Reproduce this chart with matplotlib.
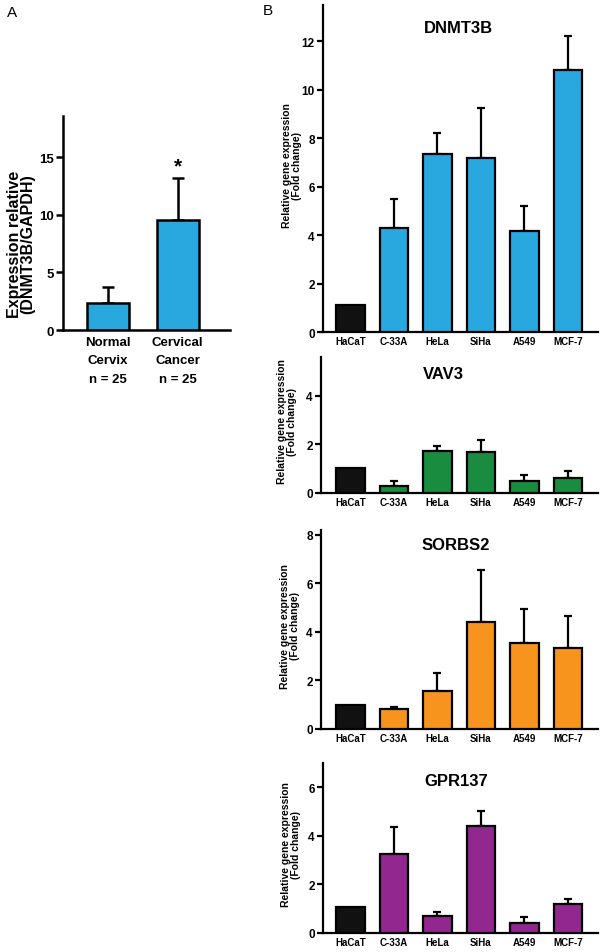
import matplotlib

matplotlib.use("Agg")
import matplotlib.pyplot as plt

plt.rcParams["font.family"] = ["Liberation Sans", "DejaVu Sans"]

# ---- data -------------------------------------------------------------
groups_a = ["Normal\nCervix\nn = 25", "Cervical\nCancer\nn = 25"]
mean_a = [2.35, 9.57]
err_a = [1.35, 3.63]

cell_lines = ["HaCaT", "C-33A", "HeLa", "SiHa", "A549", "MCF-7"]

dnmt3b_mean = [1.1, 4.3, 7.35, 7.2, 4.15, 10.8]
dnmt3b_err = [0.0, 1.2, 0.85, 2.05, 1.05, 1.4]

vav3_mean = [1.04, 0.3, 1.74, 1.67, 0.48, 0.6]
vav3_err = [0.0, 0.19, 0.18, 0.52, 0.26, 0.29]

sorbs2_mean = [0.99, 0.82, 1.58, 4.39, 3.53, 3.32]
sorbs2_err = [0.0, 0.1, 0.72, 2.15, 1.41, 1.32]

gpr137_mean = [1.07, 3.26, 0.72, 4.4, 0.42, 1.2]
gpr137_err = [0.0, 1.1, 0.14, 0.64, 0.24, 0.21]

W, H = 600, 953
fig = plt.figure(figsize=(W / 100, H / 100), dpi=100)


def px_axes(left, right, top, bottom):
    return fig.add_axes([left / W, 1 - bottom / H, (right - left) / W, (bottom - top) / H])


def style(ax, lw=1.6, tick_len=4.5, yfs=8.5, xfs=7):
    for side in ("top", "right"):
        ax.spines[side].set_visible(False)
    for side in ("left", "bottom"):
        ax.spines[side].set_linewidth(lw)
    ax.tick_params(axis="y", direction="out", length=tick_len, width=lw, labelsize=yfs, pad=1.5)
    ax.tick_params(axis="x", length=0, labelsize=xfs, pad=3)
    for lab in ax.get_xticklabels() + ax.get_yticklabels():
        lab.set_fontweight("bold")


# ---- panel A ----------------------------------------------------------
ax = px_axes(63, 230, 117, 331)
xa = range(len(groups_a))
ax.bar(xa, mean_a, width=0.6, color="#29A8E0", edgecolor="black", linewidth=1.8, zorder=3)
ax.errorbar(xa, mean_a, yerr=[[0] * len(err_a), err_a], fmt="none", ecolor="black",
            elinewidth=1.8, capsize=4, capthick=1.8, zorder=2)
ax.set_xlim(-0.636, 1.75)
ax.set_ylim(0, 18.6)
ax.set_yticks([0, 5, 10, 15])
ax.set_xticks(list(xa))
ax.set_xticklabels(groups_a, linespacing=1.75)
style(ax, lw=1.8, tick_len=5, yfs=9.5, xfs=9.5)
ax.tick_params(axis="x", pad=4)
ax.text(1, mean_a[1] + err_a[1] + 0.2, "*", ha="center", va="bottom", fontsize=15, fontweight="bold")
fig.text(21 / W, 1 - 244 / H, "Expression relative\n(DNMT3B/GAPDH)", rotation=90,
         ha="center", va="center", fontsize=11.5, fontweight="bold", linespacing=0.85)
fig.text(12 / W, 1 - 13 / H, "A", ha="center", va="center", fontsize=11)

# ---- panel B ----------------------------------------------------------
panels = [
    ("DNMT3B", dnmt3b_mean, dnmt3b_err, "#29A8E0", 323, 6, 333, 13.5, [0, 2, 4, 6, 8, 10, 12], 2.49, 28, 292),
    ("VAV3", vav3_mean, vav3_err, "#1A8C3F", 321, 358, 494, 5.6, [0, 2, 4], 2.13, 375, 287),
    ("SORBS2", sorbs2_mean, sorbs2_err, "#F7941D", 321, 531, 730, 8.2, [0, 2, 4, 6, 8], 2.43, 546, 290),
    ("GPR137", gpr137_mean, gpr137_err, "#92278F", 323, 764, 934, 7.0, [0, 2, 4, 6], 2.43, 782, 291),
]

xb = range(len(cell_lines))
for name, mean, err, color, left, top, bottom, ymax, yticks, tx, ty, lx in panels:
    ax = px_axes(left, 598, top, bottom)
    colors = ["#111111"] + [color] * (len(cell_lines) - 1)
    ax.bar(xb, mean, width=0.655, color=colors, edgecolor="black", linewidth=1.6, zorder=3)
    ax.errorbar(list(xb)[1:], mean[1:], yerr=[[0] * (len(err) - 1), err[1:]], fmt="none",
                ecolor="black", elinewidth=1.6, capsize=3, capthick=1.6, zorder=2)
    ax.set_xlim(-0.632 + (left - 323) / 43.5, 5.69)
    ax.set_ylim(0, ymax)
    ax.set_yticks(yticks)
    ax.set_xticks(list(xb))
    ax.set_xticklabels(cell_lines)
    style(ax)
    ax.text(tx, 1 - (ty - top) / (bottom - top), name, transform=ax.get_xaxis_transform(),
            ha="center", va="center", fontsize=12, fontweight="bold")
    fig.text(lx / W, 1 - ((top + bottom) / 2 - 4) / H, "Relative gene expression\n(Fold change)",
             rotation=90, ha="center", va="center", fontsize=7.5, fontweight="bold", linespacing=1.05)

fig.text(268 / W, 1 - 11 / H, "B", ha="center", va="center", fontsize=11)

fig.savefig("out.png", dpi=100)
